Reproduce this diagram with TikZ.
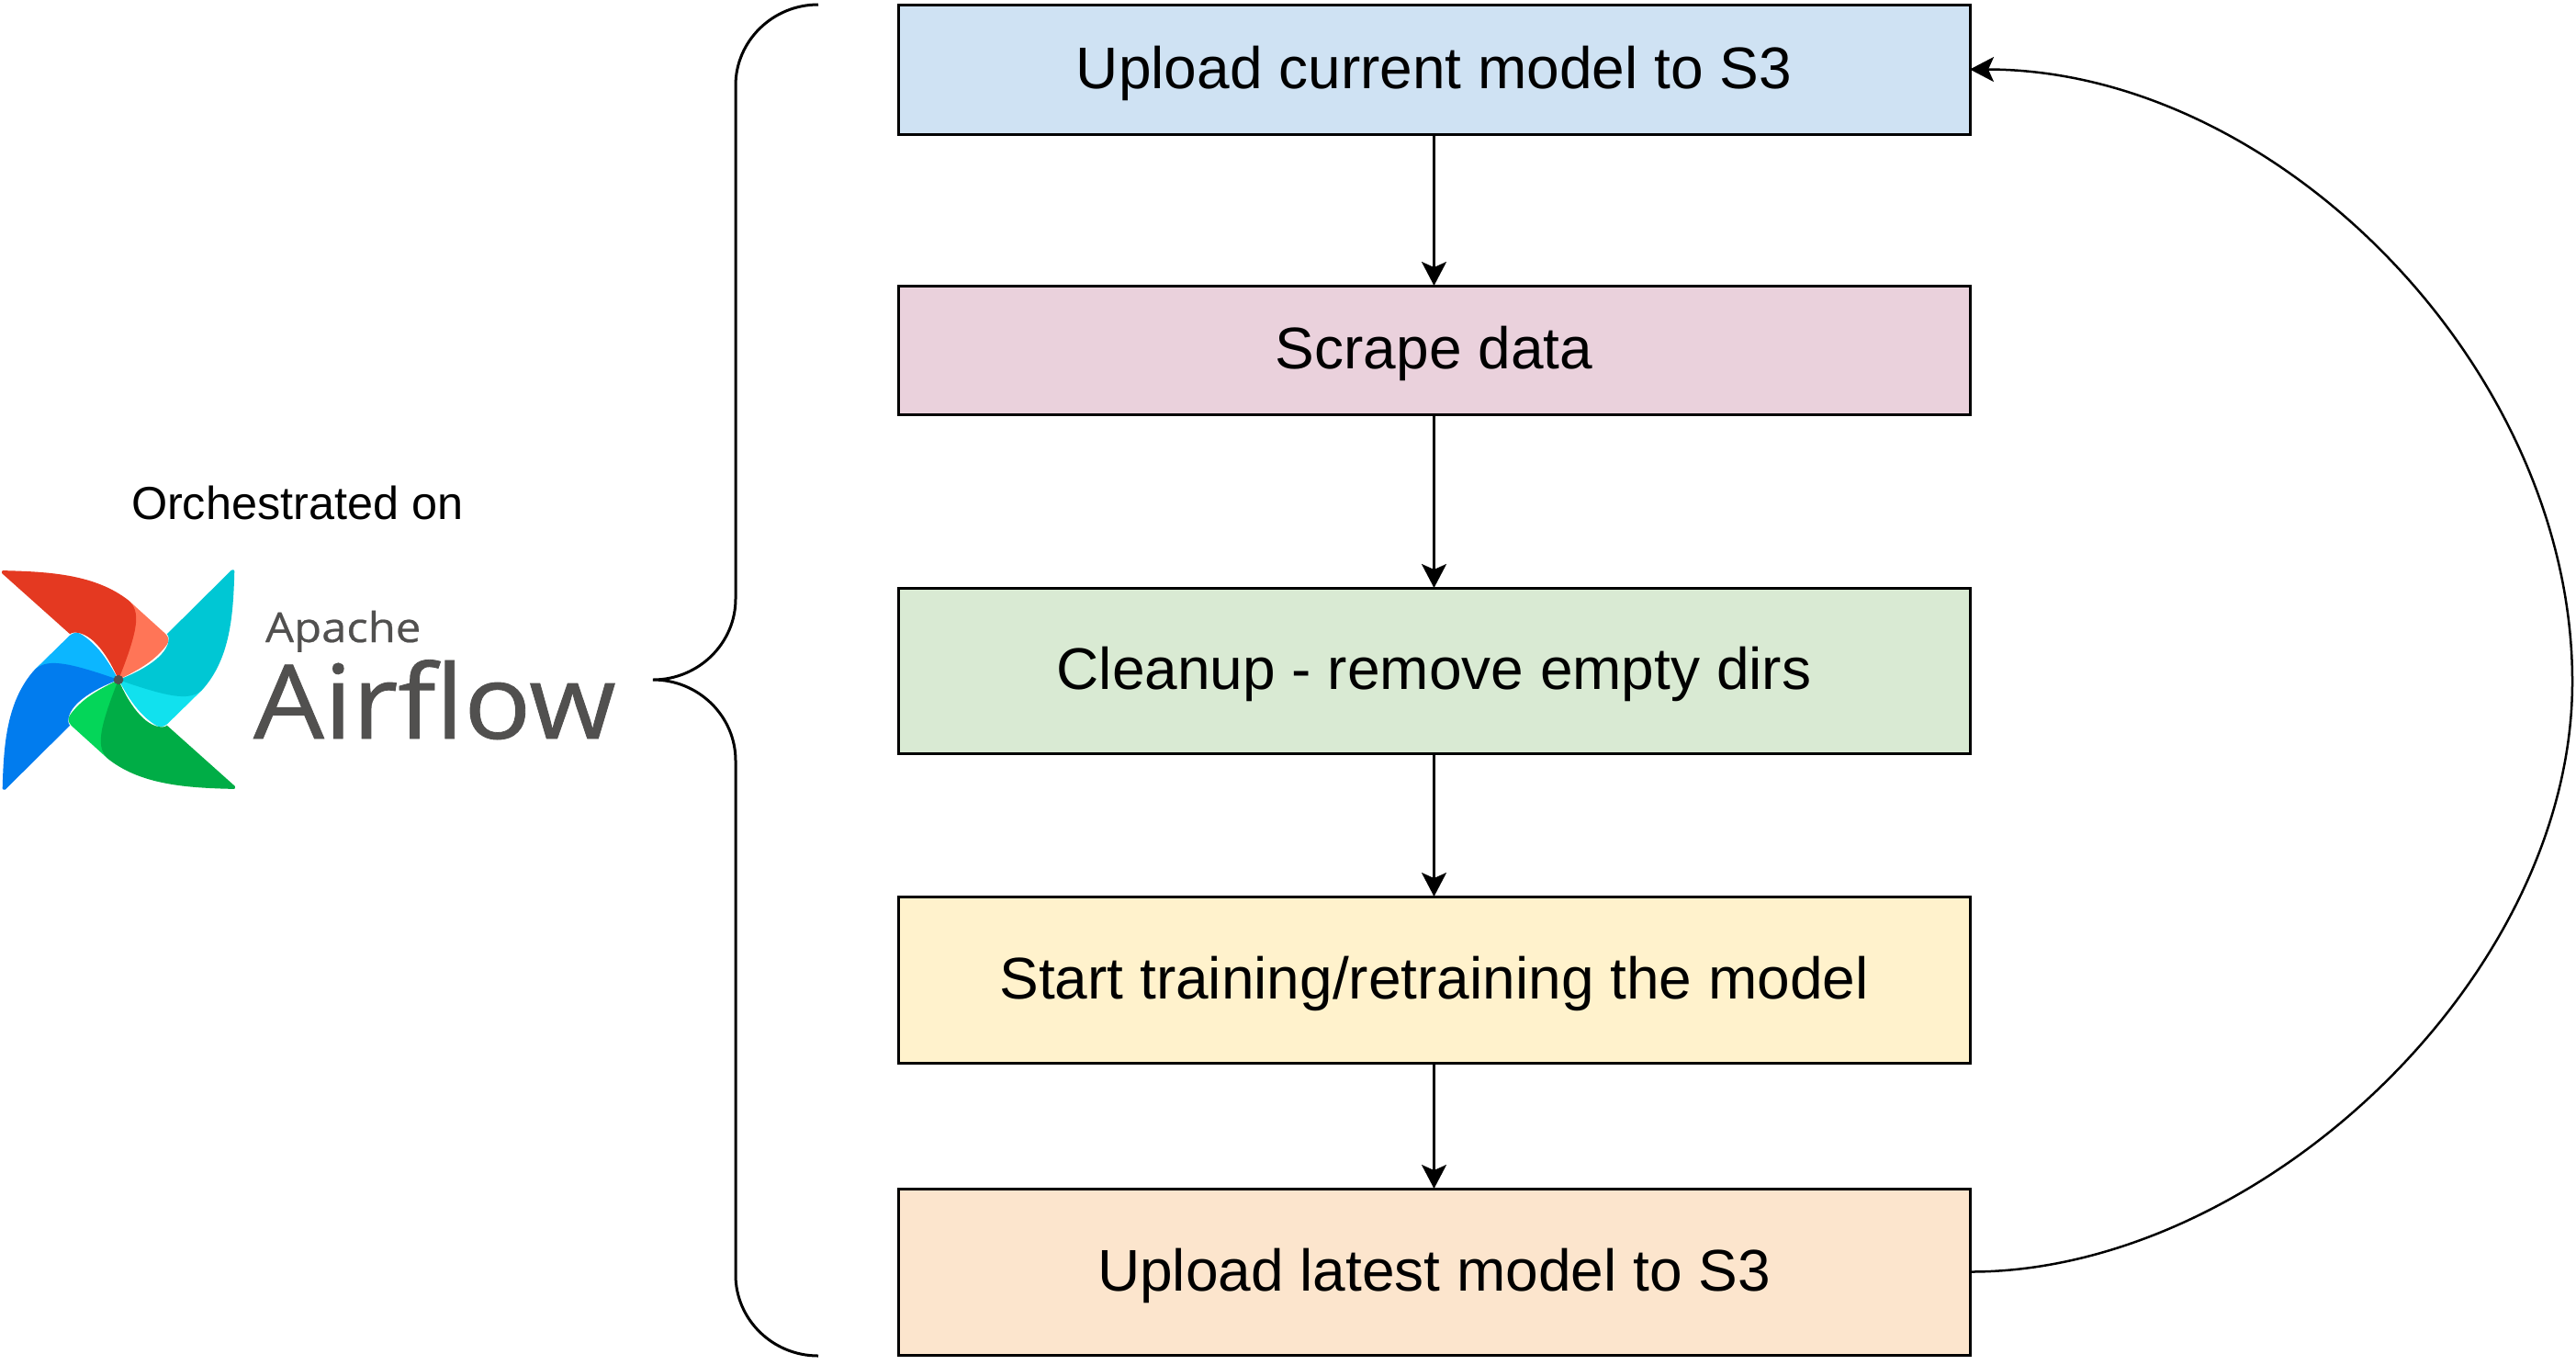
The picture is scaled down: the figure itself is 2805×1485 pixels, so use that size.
\documentclass[tikz,border=0pt]{standalone}
\usepackage{fontspec}
\usepackage{graphicx}
\setmainfont{Liberation Sans}
\newfontfamily\logofont{Open Sans}
\usetikzlibrary{arrows.meta}
\definecolor{boxblue}{HTML}{CFE2F3}
\definecolor{boxpink}{HTML}{EAD1DC}
\definecolor{boxgreen}{HTML}{D9EAD3}
\definecolor{boxyellow}{HTML}{FFF2CC}
\definecolor{boxorange}{HTML}{FCE5CD}
\definecolor{afred}{HTML}{E43921}
\definecolor{afsalmon}{HTML}{FF7557}
\definecolor{afteal}{HTML}{00C7D4}
\definecolor{afcyan}{HTML}{11E1EE}
\definecolor{afgreen}{HTML}{00AD46}
\definecolor{aflime}{HTML}{04D659}
\definecolor{afblue}{HTML}{017CEE}
\definecolor{afsky}{HTML}{0CB6FF}
\definecolor{afgrey}{HTML}{51504F}
\tikzset{
  stepbox/.style={draw=black,line width=1.5pt,outer sep=0pt,inner sep=0pt,minimum width=583.5pt,
    font=\fontsize{32}{38}\selectfont,text height=23pt,text depth=2.5pt,anchor=center},
  flow/.style={line width=1.25pt,-{Stealth[length=13pt,width=13.5pt,inset=3pt]}},
  brace/.style={line width=1.5pt,line join=miter},
  plain/.style={inner sep=0pt,outer sep=0pt}
}
\newcommand{\pinblade}[3]{%
  \begin{scope}[rotate=#1]
    \fill[#3,rounded corners=0.6pt] (8.8,-73) -- (40,-43) .. controls (44,-39) and (44,-35) .. (41,-31) .. controls (30,-16) and (15,-8) .. (0,0) -- cycle;
    \fill[#2] (-100,-100.5) .. controls (-60,-99.5) and (-20,-97) .. (8.8,-73) .. controls (19,-63) and (18,-48) .. (0,0) .. controls (-8,-20) and (-22,-43.5) .. (-38,-43.5) .. controls (-40,-43.5) and (-41,-43) .. (-42,-42) -- (-101,-98) .. controls (-101.5,-99.5) and (-101,-100.5) .. (-100,-100.5) -- cycle;
  \end{scope}}
\begin{document}
\begin{tikzpicture}[x=0.5pt,y=-0.5pt]
\useasboundingbox (0,0) rectangle (2805,1485);
\node[stepbox,fill=boxblue,minimum height=70.5pt] (b1) at (1561.5,75.5) {Upload current model to S3};
\node[stepbox,fill=boxpink,minimum height=70pt] (b2) at (1561.5,381) {Scrape data};
\node[stepbox,fill=boxgreen,minimum height=90pt] (b3) at (1561.5,730) {Cleanup - remove empty dirs};
\node[stepbox,fill=boxyellow,minimum height=90.5pt] (b4) at (1561.5,1066.5) {Start training/retraining the model};
\node[stepbox,fill=boxorange,minimum height=90.5pt] (b5) at (1561.5,1384.5) {Upload latest model to S3};
\draw[flow] (b1) -- (b2);
\draw[flow] (b2) -- (b3);
\draw[flow] (b3) -- (b4);
\draw[flow] (b4) -- (b5);
\coordinate (far) at (2801,742);
\draw[flow] (b5.east) .. controls (2458,1385) and (2801,1066) .. (far) .. controls (2801,402) and (2481,76) .. (b1.east);
\coordinate (bt) at (891,5);
\coordinate (bm) at (711,740);
\coordinate (bb) at (891,1476);
\draw[brace] (bt) .. controls (841,5) and (801,45) .. (801,93) -- (801,652) .. controls (801,700) and (761,740) .. (bm)
  .. controls (761,740) and (801,780) .. (801,828) -- (801,1388) .. controls (801,1436) and (841,1476) .. (bb);
\node[plain,font=\fontsize{25.2}{30}\selectfont,anchor=base west] (orch) at (143,565) {Orchestrated on};
\begin{scope}[shift={(129,740)},xscale=1.2567,yscale=1.183]
  \pinblade{0}{afred}{afsalmon}
  \pinblade{-90}{afteal}{afcyan}
  \pinblade{-180}{afgreen}{aflime}
  \pinblade{-270}{afblue}{afsky}
  \fill[afgrey] (0,0) circle (4.3);
\end{scope}
\node[plain,font=\logofont\fontsize{22.5}{27}\selectfont\addfontfeature{FakeBold=0.5},text=afgrey,anchor=base west] (apache) at (289,699) {\scalebox{1.09}[1]{Apache}};
\node[plain,font=\logofont\fontsize{56}{64}\selectfont\addfontfeature{FakeBold=0.7},text=afgrey,anchor=base west] (airflow) at (276,804) {\scalebox{1.085}[1]{Airflow}};
\end{tikzpicture}
\end{document}
